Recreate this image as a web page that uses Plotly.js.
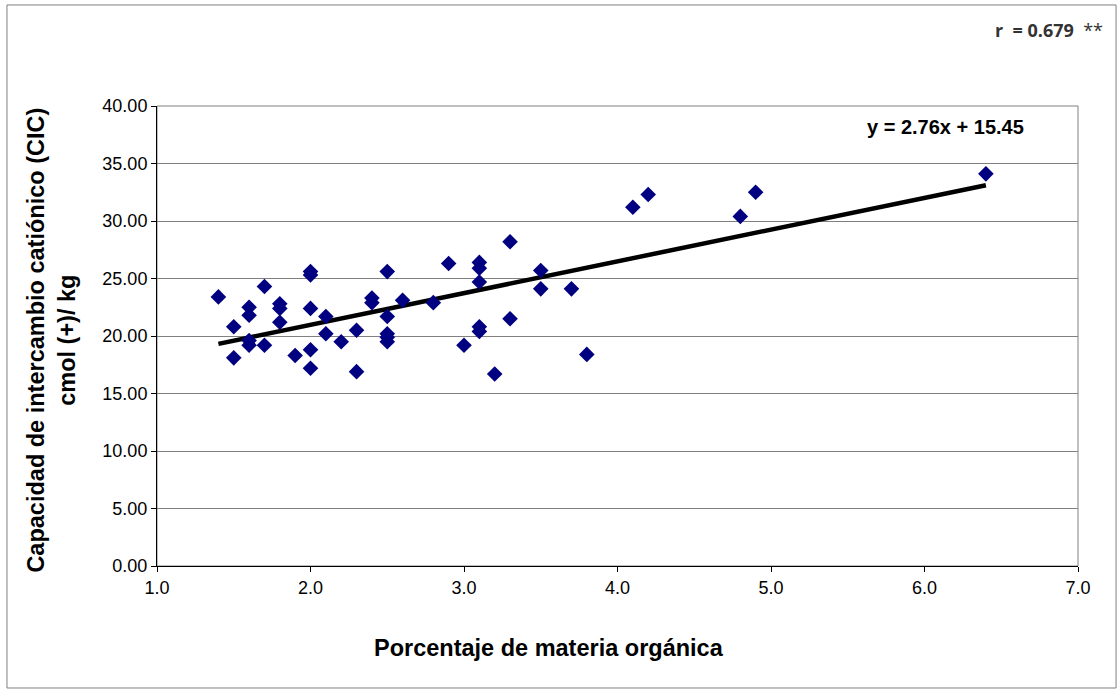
<!DOCTYPE html>
<html>
<head>
<meta charset="utf-8">
<script src="https://cdn.plot.ly/plotly-3.0.1.min.js"></script>
<style>
  html, body { margin: 0; padding: 0; background: #ffffff; }
  #chart { width: 1118px; height: 691px; }
</style>
</head>
<body>
<div id="chart"></div>
<script>
// Organic matter (%) and cation exchange capacity (cmol(+)/kg) per sample
const materiaOrganica = [
  1.4, 1.5, 1.5, 1.6, 1.6, 1.6, 1.6, 1.7, 1.7, 1.8, 1.8, 1.8, 1.9,
  2.0, 2.0, 2.0, 2.0, 2.0, 2.1, 2.1, 2.2, 2.3, 2.3, 2.4, 2.4,
  2.5, 2.5, 2.5, 2.5, 2.5, 2.6, 2.8, 2.9, 3.0,
  3.1, 3.1, 3.1, 3.1, 3.1, 3.2, 3.3, 3.3, 3.5, 3.5, 3.7, 3.8,
  4.1, 4.2, 4.8, 4.9, 6.4
];
const cic = [
  23.4, 20.8, 18.1, 22.5, 21.8, 19.6, 19.2, 24.3, 19.2, 22.8, 22.4, 21.2, 18.3,
  25.6, 25.3, 22.4, 18.8, 17.2, 21.7, 20.2, 19.5, 20.5, 16.9, 23.3, 22.9,
  25.6, 21.7, 20.2, 19.9, 19.5, 23.1, 22.9, 26.3, 19.2,
  26.4, 25.9, 24.7, 20.8, 20.4, 16.7, 28.2, 21.5, 25.7, 24.1, 24.1, 18.4,
  31.2, 32.3, 30.4, 32.5, 34.1
];

// Linear fit y = pendiente * x + intercepto, and correlation coefficient
const pendiente = 2.76;
const intercepto = 15.45;
const rCorrelacion = 0.679;

// Tick labels
const yTicks = [0, 5, 10, 15, 20, 25, 30, 35, 40];
const xTicks = [1, 2, 3, 4, 5, 6, 7];

const xMin = Math.min(...materiaOrganica);
const xMax = Math.max(...materiaOrganica);
const lineaX = [xMin, xMax];
const lineaY = lineaX.map(v => pendiente * v + intercepto);

const fontBase = "Arial, 'Liberation Sans', sans-serif";

const traces = [
  {
    type: "scatter",
    mode: "lines",
    x: lineaX,
    y: lineaY,
    line: { color: "#000000", width: 4.5 },
    hoverinfo: "skip",
    showlegend: false
  },
  {
    type: "scatter",
    mode: "markers",
    x: materiaOrganica,
    y: cic,
    marker: { symbol: "diamond", size: 12, color: "#000080", line: { width: 0 } },
    showlegend: false
  }
];

const layout = {
  width: 1118,
  height: 691,
  margin: { l: 157, r: 40, t: 106, b: 125 },
  paper_bgcolor: "#ffffff",
  plot_bgcolor: "#ffffff",
  font: { family: fontBase, color: "#000000", size: 18 },
  showlegend: false,
  xaxis: {
    range: [1, 7],
    tickvals: xTicks,
    tickformat: ".1f",
    showgrid: false,
    zeroline: false,
    showline: true,
    linecolor: "#000000",
    linewidth: 1,
    ticks: "outside",
    ticklen: 5,
    tickcolor: "#000000",
    tickfont: { family: fontBase, size: 18, color: "#000000" },
    fixedrange: true
  },
  yaxis: {
    range: [0, 40],
    tickvals: yTicks,
    tickformat: ".2f",
    showgrid: true,
    gridcolor: "#808080",
    gridwidth: 1,
    zeroline: false,
    showline: true,
    linecolor: "#000000",
    linewidth: 1,
    ticks: "outside",
    ticklen: 5,
    tickcolor: "#000000",
    tickfont: { family: fontBase, size: 18, color: "#000000" },
    fixedrange: true
  },
  shapes: [
    // plot-area frame (top and right edges show in gray)
    {
      type: "rect", xref: "paper", yref: "paper",
      x0: 0, x1: 1, y0: 0, y1: 1,
      line: { color: "#808080", width: 1 },
      layer: "below"
    },
    // outer chart border
    {
      type: "rect", xref: "paper", yref: "paper",
      x0: -0.1629, x1: 1.0413, y0: -0.2652, y1: 1.2196,
      line: { color: "#808080", width: 1 },
      layer: "below"
    }
  ],
  annotations: [
    {
      xref: "paper", yref: "paper",
      x: -0.114, y: 0.49,
      xanchor: "center", yanchor: "middle",
      textangle: -90,
      showarrow: false,
      text: "<b>Capacidad de intercambio catiónico (CIC)</b><br><b>cmol (+)/ kg</b>",
      font: { family: fontBase, size: 23.5, color: "#000000" }
    },
    {
      xref: "paper", yref: "paper",
      x: 0.4256, y: -0.178,
      xanchor: "center", yanchor: "middle",
      showarrow: false,
      text: "<b>Porcentaje de materia orgánica</b>",
      font: { family: fontBase, size: 23.5, color: "#000000" }
    },
    {
      xref: "paper", yref: "paper",
      x: 0.7687, y: 0.954,
      xanchor: "left", yanchor: "middle",
      showarrow: false,
      text: "<b>y = " + pendiente.toFixed(2) + "x + " + intercepto.toFixed(2) + "</b>",
      font: { family: fontBase, size: 20, color: "#000000" }
    },
    {
      xref: "paper", yref: "paper",
      x: 1.029, y: 1.165,
      xanchor: "right", yanchor: "middle",
      showarrow: false,
      text: "<b>r  = " + rCorrelacion.toFixed(3) + "</b>  **",
      font: { family: "'Open Sans', 'Noto Sans', sans-serif", size: 18, color: "#333333" }
    }
  ]
};

Plotly.newPlot("chart", traces, layout, { displayModeBar: false, staticPlot: true });
</script>
</body>
</html>
